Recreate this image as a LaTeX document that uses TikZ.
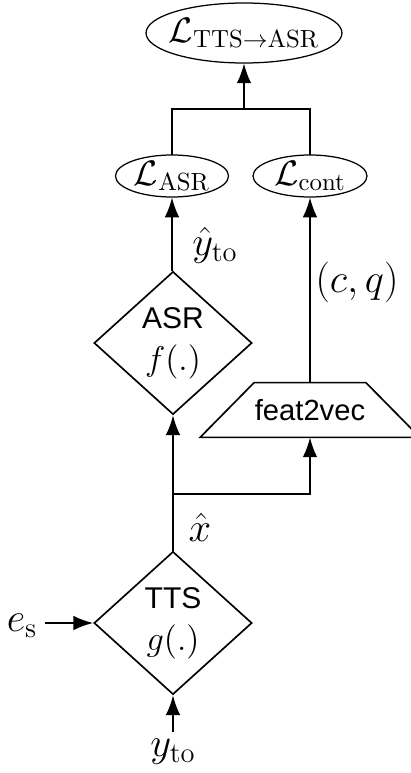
\RequirePackage{fix-cm}
\documentclass[tikz,border=0pt]{standalone}
\usepackage[no-math]{fontspec}
\newfontfamily\blockfont{Liberation Sans}
\usepackage{amsmath, amssymb}
\usepackage{tikz}
\usetikzlibrary{shapes, arrows.meta, positioning, calc}

\tikzset{
  every node/.style={font=\fontsize{19.5}{23}\selectfont},
  loss/.style={inner sep=0pt, font=\fontsize{17}{20}\selectfont},
  ring/.style={line width=0.6pt},
  unit/.style={draw, diamond, line width=0.8pt, inner sep=0pt, align=center,
    minimum width=75.8pt, minimum height=68.6pt, aspect=1.1,
    font=\fontsize{14.4}{17}\selectfont\blockfont},
  arr/.style={-{Latex[length=9.5pt,width=7pt]}, line width=0.9pt},
  link/.style={line width=0.9pt}
}
\newcommand{\fnmath}[1]{{\fontsize{16.5}{19}\selectfont$#1$}}

\begin{document}
\begin{tikzpicture}[x=0.48pt, y=-0.48pt]
  \useasboundingbox (0,0) rectangle (411,773);

  % Losses (outlines drawn round the nodes)
  \node[loss, minimum width=94.1pt, minimum height=28.8pt] (ltot) at (244, 33) {$\mathcal{L}_{\mathrm{TTS}\to\mathrm{ASR}}$};
  \node[loss, minimum width=54.2pt, minimum height=20.2pt] (lasr) at (172, 176) {$\mathcal{L}_{\mathrm{ASR}}$};
  \node[loss, minimum width=54.7pt, minimum height=20.2pt] (lcont) at (310, 176) {$\mathcal{L}_{\mathrm{cont}}$};
  \draw[ring] (ltot.center) ellipse [x radius=98, y radius=30];
  \draw[ring] (lasr.center) ellipse [x radius=56.5, y radius=21];
  \draw[ring] (lcont.center) ellipse [x radius=57, y radius=21];

  % ASR and TTS
  \node[unit] (asr) at (173, 343) {ASR\\[3pt]\fnmath{f(.)}};
  \node[unit] (tts) at (173, 623) {TTS\\[3pt]\fnmath{g(.)}};

  % feat2vec (outline drawn from the node's corners)
  \node[minimum width=105.1pt, minimum height=25.9pt, inner sep=0pt,
    font=\fontsize{14}{17}\selectfont\blockfont] (f2v) at (310, 410) {feat2vec};
  \draw[line width=0.8pt] (f2v.south west) -- (f2v.south east)
    -- ($(f2v.north east)+(-54,0)$) -- ($(f2v.north west)+(54,0)$) -- cycle;

  % Inputs
  \node (es) at (22, 626) {$e_{\mathrm{s}}$};
  \node (yto) at (173, 752) {$y_{\mathrm{to}}$};

  \coordinate (split) at (173, 494);
  \coordinate (join) at (244, 109);

  % Connections
  \draw[arr] (es.east |- tts.west) -- (tts.west);
  \draw[arr] (yto.north) -- (tts.south);
  \draw[arr] (tts.north) -- (asr.south);
  \draw[arr] (split) -| (f2v.south);
  \draw[arr] (asr.north -| lasr.south) -- (lasr.south);
  \draw[arr] (f2v.north) -- (lcont.south);
  \draw[link] (lasr.north) |- (join) -| (lcont.north);
  \draw[arr] (join) -- (ltot.south);

  % Labels
  \node (yhat) at (215, 245) {$\hat{y}_{\mathrm{to}}$};
  \node (cq) at (357, 282) {$(c,q)$};
  \node (xhat) at (200, 527) {$\hat{x}$};
\end{tikzpicture}
\end{document}
